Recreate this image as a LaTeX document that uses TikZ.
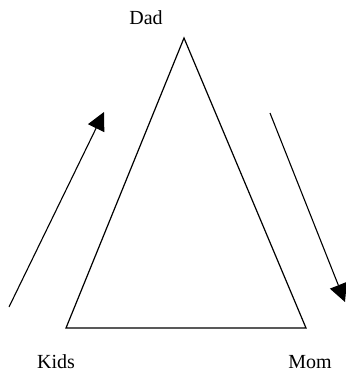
\documentclass[tikz,border=0pt]{standalone}
\usepackage{fontspec}
\setmainfont{Liberation Serif}
\usetikzlibrary{arrows.meta,positioning}
\begin{document}
\begin{tikzpicture}[x=1pt,y=-1pt,line width=1.2pt,
  family/.style={font=\fontsize{20}{24}\selectfont,inner sep=0pt},
  flow/.style={line width=1.1pt,-{Triangle[length=18pt,width=18pt]}}]
 \useasboundingbox (0,0) rectangle (346,373);
 \coordinate (top) at (184,38);
 \coordinate (left) at (66,328);
 \coordinate (right) at (306,328);
 \node [family] (dad) at (146,18) {Dad};
 \node [family] (kids) at (56,362) {Kids};
 \node [family] (mom) at (310,362) {Mom};
 \draw (top) -- (left) -- (right) -- cycle;
 \coordinate (upfrom) at (9,307);
 \coordinate (upto) at (104,112);
 \coordinate (downfrom) at (270,113);
 \coordinate (downto) at (345,302);
 \draw [flow] (upfrom) -- (upto);
 \draw [flow] (downfrom) -- (downto);
\end{tikzpicture}
\end{document}
